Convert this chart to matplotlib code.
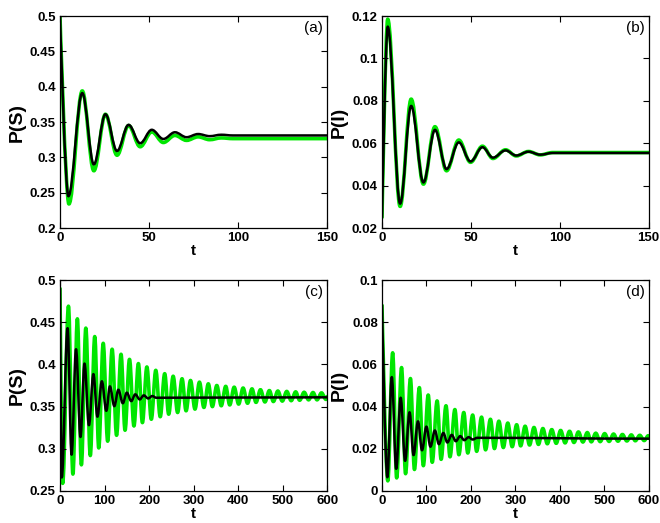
import matplotlib
matplotlib.use('Agg')
from matplotlib import pyplot as plt
from matplotlib.path import Path
from matplotlib.patches import PathPatch
from matplotlib.ticker import FuncFormatter

plt.rcParams['font.family'] = ['Liberation Sans', 'DejaVu Sans']

# extrema (t, value); first point is the start of the run
# (a) P(S), t in [0, 150]
a_green_t = [0, 5, 12.5, 19, 25.5, 32, 38.5, 45, 51.5, 58, 64.5, 71, 77.5, 84, 90.5, 97]
a_green_y = [0.5, 0.234, 0.394, 0.281, 0.361, 0.303, 0.345, 0.315, 0.336, 0.321, 0.331, 0.324, 0.329, 0.325, 0.3275, 0.3265]
a_black_t = [0, 4.7, 12.5, 19, 25.5, 32, 38.5, 45, 51.5, 58, 64.5, 71, 77.5, 84, 90.5, 97]
a_black_y = [0.5, 0.245, 0.391, 0.290, 0.361, 0.309, 0.346, 0.320, 0.339, 0.326, 0.3355, 0.3285, 0.333, 0.330, 0.332, 0.331]

# (b) P(I), t in [0, 150]
b_green_t = [0, 3.2, 10.2, 16.4, 23.3, 29.8, 36.3, 43.2, 49.8, 56.5, 62.4, 69.5, 75.5, 82.4, 89, 96]
b_green_y = [0.025, 0.1185, 0.0302, 0.0808, 0.0407, 0.0678, 0.0470, 0.0615, 0.0510, 0.0586, 0.0528, 0.0569, 0.0540, 0.0561, 0.0545, 0.0556]
b_black_t = [0, 3.2, 10.2, 16.4, 23.3, 29.8, 36.3, 43.2, 49.8, 56.5, 62.4, 69.5, 75.5, 82.4, 89, 96]
b_black_y = [0.025, 0.115, 0.0315, 0.0776, 0.0415, 0.0663, 0.0478, 0.0604, 0.0514, 0.0581, 0.0532, 0.0566, 0.0542, 0.0560, 0.0546, 0.0554]

# (c) P(S), t in [0, 600]
c_green_peak_t = [19, 39, 58, 78, 97, 117, 137, 156, 176, 195, 215, 235, 254, 274, 293,
                  313, 333, 352, 372, 391, 411, 431, 450, 470, 489, 509, 529, 548, 568, 587]
c_green_peak_y = [0.469, 0.454, 0.443, 0.433, 0.425, 0.418, 0.412, 0.406, 0.401, 0.397, 0.393, 0.389, 0.386, 0.383, 0.381,
                  0.379, 0.377, 0.375, 0.374, 0.373, 0.372, 0.371, 0.370, 0.369, 0.3685, 0.368, 0.3675, 0.367, 0.3667, 0.3663]
c_green_trough_t = [6, 29, 48, 68, 87, 107, 127, 146, 166, 185, 205, 225, 244, 264, 283,
                    303, 323, 342, 362, 381, 401, 421, 440, 460, 479, 499, 519, 538, 558, 577, 597]
c_green_trough_y = [0.259, 0.270, 0.281, 0.292, 0.301, 0.309, 0.316, 0.322, 0.327, 0.331, 0.335, 0.338, 0.341, 0.343, 0.345,
                    0.347, 0.349, 0.350, 0.351, 0.352, 0.353, 0.354, 0.355, 0.3555, 0.356, 0.3565, 0.357, 0.3575, 0.358, 0.358, 0.3585]
c_black_peak_t = [17, 36, 55, 75, 94, 112, 131, 150, 169, 188, 207]
c_black_peak_y = [0.443, 0.418, 0.401, 0.3885, 0.380, 0.374, 0.370, 0.3665, 0.3645, 0.3633, 0.3625]
c_black_trough_t = [4, 26, 46, 65, 84, 104, 122, 141, 160, 179, 198, 216]
c_black_trough_y = [0.266, 0.293, 0.314, 0.328, 0.338, 0.345, 0.3505, 0.354, 0.3565, 0.3585, 0.3597, 0.3605]
c_start = 0.49
c_green_end = 0.362
c_black_end = 0.361

# (d) P(I), t in [0, 600]
d_green_peak_t = [24, 44, 64, 84, 104, 124, 144, 164, 184, 204, 224, 244, 263, 283, 303,
                  322, 342, 362, 382, 402, 422, 442, 462, 481, 501, 521, 541, 561, 580, 599]
d_green_peak_y = [0.0655, 0.0585, 0.0533, 0.049, 0.0455, 0.0427, 0.0404, 0.0386, 0.0372, 0.036, 0.035, 0.034, 0.0331, 0.0322, 0.0314,
                  0.0307, 0.0301, 0.0296, 0.0291, 0.0287, 0.0283, 0.028, 0.0277, 0.0274, 0.0272, 0.027, 0.0268, 0.0266, 0.0264, 0.0262]
d_green_trough_t = [13, 33, 53, 73, 93, 113, 133, 153, 173, 193, 213, 233, 253, 273, 293,
                    312, 332, 352, 372, 392, 412, 432, 452, 471, 491, 511, 531, 551, 570, 590]
d_green_trough_y = [0.0048, 0.0062, 0.0082, 0.0102, 0.012, 0.0136, 0.015, 0.0162, 0.0172, 0.018, 0.0188, 0.0195, 0.0201, 0.0206, 0.021,
                    0.0214, 0.0218, 0.0221, 0.0224, 0.0226, 0.0228, 0.023, 0.0232, 0.0233, 0.0234, 0.0235, 0.0236, 0.0237, 0.0238, 0.0239]
d_black_peak_t = [22, 42, 62, 81, 100, 119, 138, 157, 176, 195, 214]
d_black_peak_y = [0.054, 0.0442, 0.0373, 0.033, 0.0305, 0.0287, 0.0275, 0.0266, 0.026, 0.0255, 0.0252]
d_black_trough_t = [12, 32, 52, 71, 90, 109, 128, 147, 166, 185, 204]
d_black_trough_y = [0.0065, 0.0105, 0.0143, 0.017, 0.0193, 0.021, 0.0222, 0.023, 0.0236, 0.0241, 0.0244]
d_start = 0.088
d_green_end = 0.0250
d_black_end = 0.0248


def merge(start_y, lo_t, lo_y, hi_t, hi_y, t_end, y_end):
    pts = sorted(list(zip(lo_t, lo_y)) + list(zip(hi_t, hi_y)))
    t = [0] + [p[0] for p in pts]
    y = [start_y] + [p[1] for p in pts]
    if t[-1] < t_end:
        t.append(t_end)
        y.append(y_end)
    return t, y


def curve(ax, t, y, color, lw, t_end):
    # smooth curve through the extrema (horizontal tangents at each extremum)
    verts = [(t[0], y[0])]
    codes = [Path.MOVETO]
    for i in range(len(t) - 1):
        d = (t[i + 1] - t[i]) * 0.36
        d0 = 0 if i == 0 else d
        verts += [(t[i] + d0, y[i]), (t[i + 1] - d, y[i + 1]), (t[i + 1], y[i + 1])]
        codes += [Path.CURVE4] * 3
    if t[-1] < t_end:
        verts.append((t_end, y[-1]))
        codes.append(Path.LINETO)
    ax.add_patch(PathPatch(Path(verts, codes), fill=False, edgecolor=color, lw=lw,
                           capstyle='round', joinstyle='round'))


fmt = FuncFormatter(lambda v, p: '%g' % round(v, 4))

fig = plt.figure(figsize=(6.6, 5.23), dpi=100)
boxes = [[0.0909, 0.564, 0.405, 0.4054], [0.5788, 0.564, 0.404, 0.4054],
         [0.0909, 0.0612, 0.405, 0.4034], [0.5788, 0.0612, 0.404, 0.4034]]
axs = [fig.add_axes(b) for b in boxes]

green = '#00e600'
glw = 2.6
blw = 1.8

ax = axs[0]
curve(ax, a_green_t, a_green_y, green, glw, 150)
curve(ax, a_black_t, a_black_y, 'black', blw, 150)
ax.set_xlim(0, 150)
ax.set_ylim(0.2, 0.5)
ax.set_xticks([0, 50, 100, 150])
ax.set_yticks([0.2, 0.25, 0.3, 0.35, 0.4, 0.45, 0.5])
ax.set_ylabel('P(S)')
ax.text(0.985, 0.975, '(a)', transform=ax.transAxes, ha='right', va='top', fontsize=11)

ax = axs[1]
curve(ax, b_green_t, b_green_y, green, glw, 150)
curve(ax, b_black_t, b_black_y, 'black', blw, 150)
ax.set_xlim(0, 150)
ax.set_ylim(0.02, 0.12)
ax.set_xticks([0, 50, 100, 150])
ax.set_yticks([0.02, 0.04, 0.06, 0.08, 0.1, 0.12])
ax.set_ylabel('P(I)')
ax.text(0.985, 0.975, '(b)', transform=ax.transAxes, ha='right', va='top', fontsize=11)

ax = axs[2]
t, y = merge(c_start, c_green_trough_t, c_green_trough_y, c_green_peak_t, c_green_peak_y, 600, c_green_end)
curve(ax, t, y, green, glw, 600)
t, y = merge(c_start, c_black_trough_t, c_black_trough_y, c_black_peak_t, c_black_peak_y, 600, c_black_end)
curve(ax, t, y, 'black', blw, 600)
ax.set_xlim(0, 600)
ax.set_ylim(0.25, 0.5)
ax.set_xticks(range(0, 601, 100))
ax.set_yticks([0.25, 0.3, 0.35, 0.4, 0.45, 0.5])
ax.set_ylabel('P(S)')
ax.text(0.985, 0.975, '(c)', transform=ax.transAxes, ha='right', va='top', fontsize=11)

ax = axs[3]
t, y = merge(d_start, d_green_trough_t, d_green_trough_y, d_green_peak_t, d_green_peak_y, 600, d_green_end)
curve(ax, t, y, green, glw, 600)
t, y = merge(d_start, d_black_trough_t, d_black_trough_y, d_black_peak_t, d_black_peak_y, 600, d_black_end)
curve(ax, t, y, 'black', blw, 600)
ax.set_xlim(0, 600)
ax.set_ylim(0, 0.1)
ax.set_xticks(range(0, 601, 100))
ax.set_yticks([0, 0.02, 0.04, 0.06, 0.08, 0.1])
ax.set_ylabel('P(I)')
ax.text(0.985, 0.975, '(d)', transform=ax.transAxes, ha='right', va='top', fontsize=11)

for ax in axs:
    ax.set_xlabel('t', fontsize=11, fontweight='bold', labelpad=0)
    ax.yaxis.label.set_fontsize(14)
    ax.yaxis.label.set_fontweight('bold')
    ax.yaxis.labelpad = 3
    ax.yaxis.set_major_formatter(fmt)
    ax.tick_params(direction='in', top=True, right=True, length=4, width=0.8, labelsize=9.5, pad=3)
    for lab in ax.get_xticklabels() + ax.get_yticklabels():
        lab.set_fontweight('bold')
    for s in ax.spines.values():
        s.set_linewidth(0.9)

fig.savefig('out.png', dpi=100)
